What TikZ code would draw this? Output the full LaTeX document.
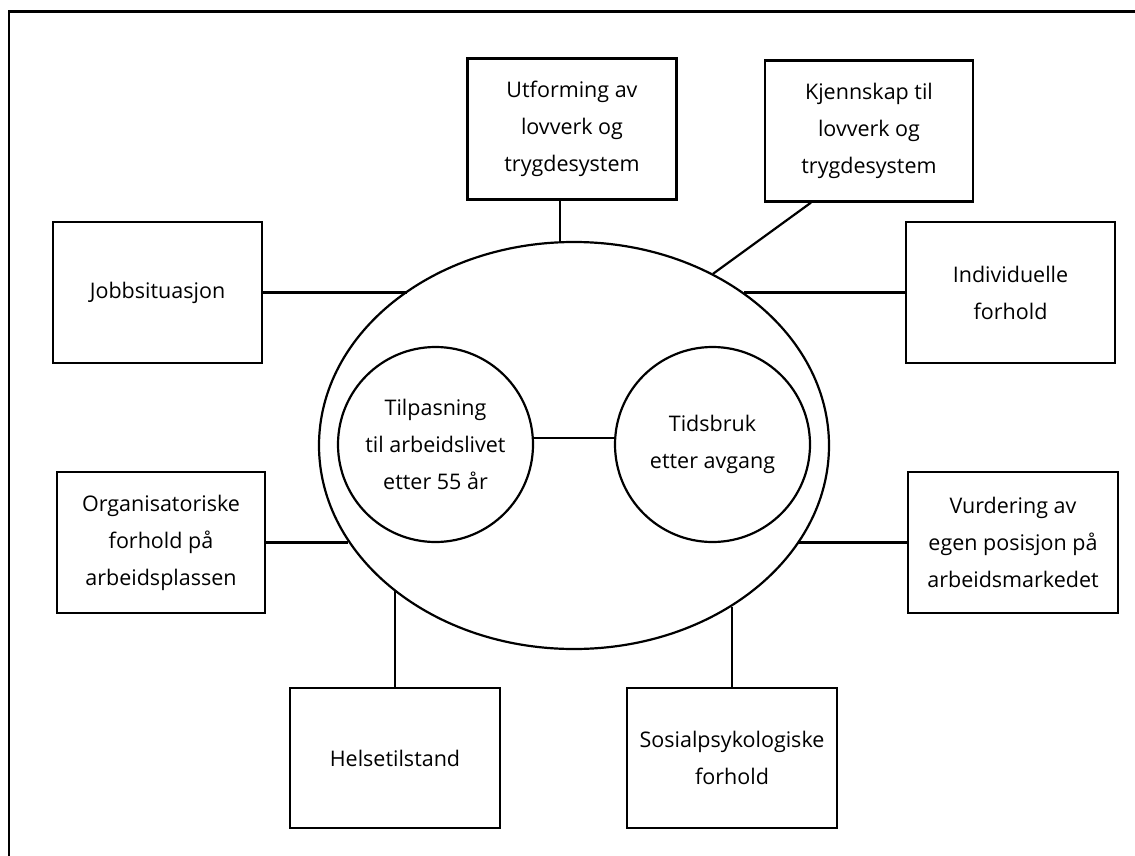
\documentclass[tikz,border=0pt]{standalone}
\usepackage{fontspec}
\setmainfont{Open Sans}
\usetikzlibrary{shapes.geometric}
\begin{document}
\begin{tikzpicture}[x=1pt,y=-1pt,
  lw/.style={line width=2.2pt},
  txt/.style={align=center,font={\fontsize{21.5}{37}\selectfont}},
  factor/.style={lw,draw,txt,minimum width=209pt,minimum height=141pt,inner sep=0pt},
  inner/.style={lw,draw,circle,txt,minimum size=195pt,inner sep=0pt},
  conn/.style={lw}]
\useasboundingbox (0,0) rectangle (1135,856);
\draw[line width=2.6pt] (9,870) -- (9,11.5) -- (1150,11.5);
% central ellipse
\node[lw,draw,ellipse,minimum width=510pt,minimum height=407pt,inner sep=0pt] (E) at (574,445.5) {};
\node[inner] (L) at (435.5,444.5) {Tilpasning\\til arbeidslivet\\etter 55 år};
\node[inner] (R) at (712.5,444.5) {Tidsbruk\\etter avgang};
\draw[conn] (L.4) -- (R.176);
% factor boxes
\node[factor] (U) at (572,129) {Utforming av\\lovverk og\\trygdesystem};
\node[factor,minimum width=208pt] (K) at (869,131) {Kjennskap til\\lovverk og\\trygdesystem};
\node[factor] (J) at (157.5,292.5) {Jobbsituasjon};
\node[factor] (I) at (1010.5,292.5) {Individuelle\\forhold};
\node[factor,minimum width=208pt] (O) at (161,542.5) {Organisatoriske\\forhold på\\arbeidsplassen};
\node[factor,minimum width=210pt] (V) at (1013,542.5) {Vurdering av\\egen posisjon på\\arbeidsmarkedet};
\node[factor,minimum width=210pt,minimum height=140pt] (H) at (395,758) {Helsetilstand};
\node[factor,minimum width=210pt,minimum height=140pt] (S) at (732,758) {Sosialpsykologiske\\forhold};
% connectors
\draw[conn] (E.94.2) -- (E.94.2 |- U.south);
\draw[conn] (E.51.5) -- ([xshift=-58pt]K.south);
\draw[conn] (J.east) -- (J.east -| E.137.9);
\draw[conn] (I.west) -- (I.west -| E.42.3);
\draw[conn] (O.east) -- (O.east -| E.203.4);
\draw[conn] (V.west) -- (V.west -| E.336.6);
\draw[conn] (H.north) -- (H.north |- E.219);
\draw[conn] (S.north) -- (S.north |- E.314.7);
\end{tikzpicture}
\end{document}
